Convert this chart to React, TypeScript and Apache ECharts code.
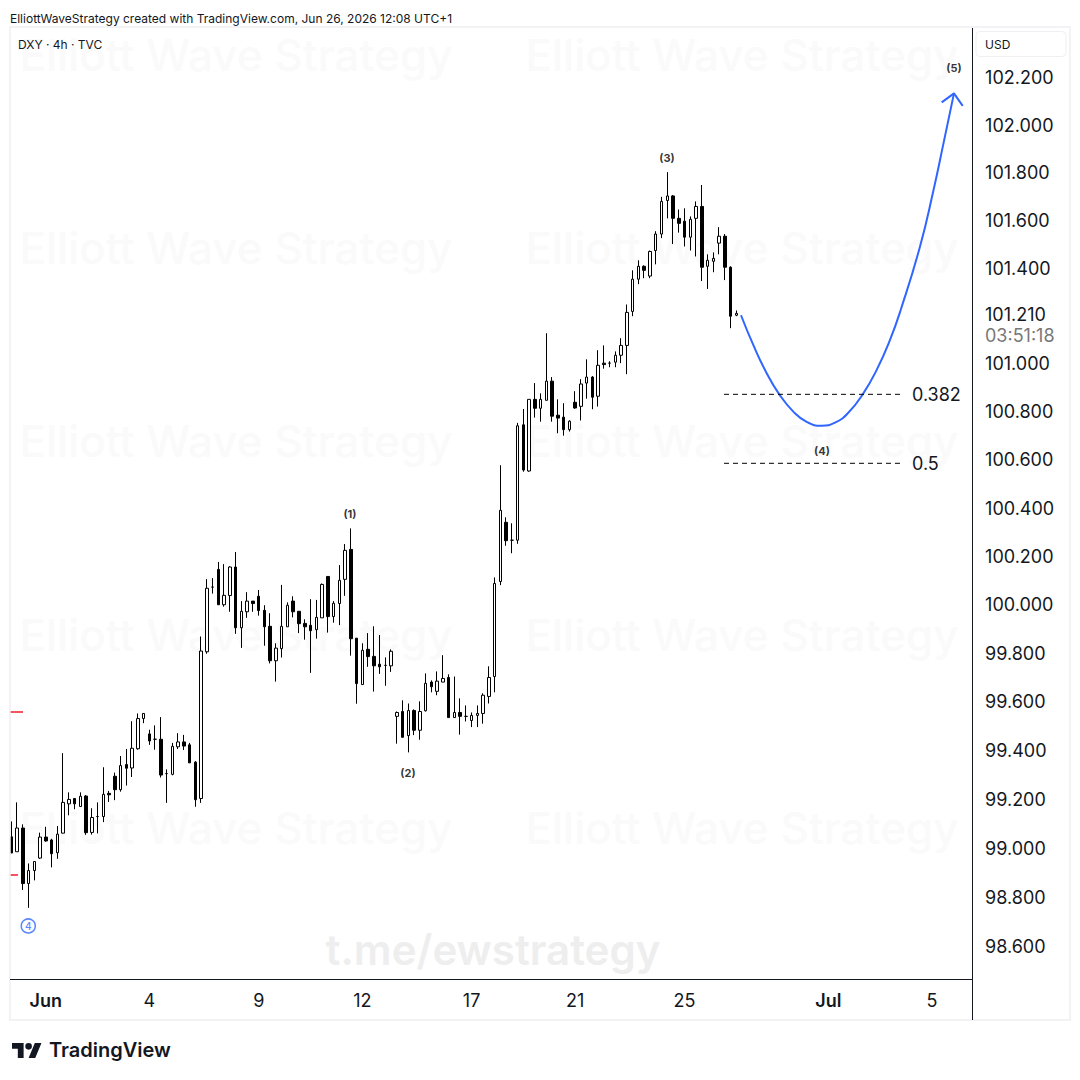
import * as echarts from 'echarts';
import { memo, useEffect, useRef } from 'react';

const opens = [
  99.046, 98.985, 99.082, 98.855, 98.908, 98.959, 99.045, 99.033, 98.981, 99.061,
  99.181, 99.203, 99.17, 99.213, 99.064, 99.129, 99.129, 99.224, 99.294, 99.239,
  99.342, 99.328, 99.407, 99.531, 99.468, 99.446, 99.446, 99.305, 99.302, 99.415,
  99.435, 99.423, 99.352, 99.203, 99.806, 100.073, 100.146, 100.0, 100.038, 100.156,
  99.905, 99.971, 100.015, 100.035, 99.977, 99.911, 99.769, 99.819, 99.909, 100.015,
  99.973, 99.923, 99.915, 99.897, 99.946, 100.117, 99.951, 100.005, 100.105, 100.229,
  99.862, 99.671, 99.816, 99.787, 99.755, 99.75, 99.748, 99.54, 99.56, 99.461,
  99.564, 99.483, 99.563, 99.681, 99.643, 99.681, 99.7, 99.535, 99.556, 99.54,
  99.523, 99.544, 99.552, 99.622, 99.704, 100.096, 100.341, 100.267, 100.267, 100.746,
  100.554, 100.852, 100.815, 100.848, 100.928, 100.786, 100.778, 100.726, 100.84, 100.823,
  100.92, 100.945, 100.865, 101.003, 101.003, 101.007, 101.036, 101.077, 101.219, 101.354,
  101.408, 101.367, 101.474, 101.543, 101.684, 101.703, 101.609, 101.597, 101.53, 101.609,
  101.659, 101.408, 101.429, 101.505, 101.534, 101.404, 101.203,
];
const closes = [
  98.98, 99.082, 98.855, 98.908, 98.945, 99.045, 99.029, 98.977, 99.057, 99.187,
  99.199, 99.181, 99.212, 99.063, 99.125, 99.129, 99.22, 99.218, 99.239, 99.338,
  99.327, 99.409, 99.531, 99.552, 99.439, 99.446, 99.299, 99.305, 99.417, 99.435,
  99.418, 99.349, 99.198, 99.809, 100.068, 100.073, 100.0, 100.039, 100.156, 99.905,
  99.973, 100.015, 100.005, 99.976, 99.909, 99.769, 99.821, 99.911, 99.998, 99.971,
  99.922, 99.909, 99.893, 99.948, 100.084, 99.951, 100.006, 100.101, 100.225, 99.86,
  99.675, 99.812, 99.786, 99.748, 99.744, 99.75, 99.808, 99.556, 99.454, 99.564,
  99.483, 99.56, 99.676, 99.662, 99.685, 99.696, 99.535, 99.556, 99.54, 99.54,
  99.544, 99.552, 99.627, 99.7, 100.088, 100.391, 100.265, 100.267, 100.742, 100.558,
  100.852, 100.815, 100.852, 100.928, 100.782, 100.774, 100.726, 100.761, 100.816, 100.916,
  100.945, 100.861, 100.994, 100.997, 101.003, 101.036, 101.077, 101.215, 101.354, 101.408,
  101.391, 101.47, 101.543, 101.68, 101.703, 101.609, 101.588, 101.53, 101.605, 101.659,
  101.404, 101.433, 101.441, 101.534, 101.404, 101.199, 101.211,
];
const lows = [
  98.98, 98.985, 98.829, 98.756, 98.868, 98.956, 99.026, 98.921, 98.956, 99.06,
  99.134, 99.159, 99.17, 99.054, 99.055, 99.06, 99.106, 99.189, 99.196, 99.231,
  99.256, 99.291, 99.403, 99.512, 99.423, 99.403, 99.289, 99.185, 99.298, 99.406,
  99.402, 99.349, 99.169, 99.185, 99.798, 100.046, 100.0, 99.992, 99.971, 99.88,
  99.822, 99.946, 99.971, 99.955, 99.831, 99.758, 99.683, 99.782, 99.909, 99.948,
  99.883, 99.856, 99.719, 99.86, 99.946, 99.885, 99.926, 99.916, 100.037, 99.79,
  99.592, 99.671, 99.744, 99.642, 99.715, 99.666, 99.723, 99.428, 99.454, 99.392,
  99.463, 99.444, 99.56, 99.639, 99.627, 99.681, 99.535, 99.535, 99.465, 99.519,
  99.496, 99.496, 99.51, 99.593, 99.639, 100.081, 100.244, 100.213, 100.252, 100.551,
  100.551, 100.776, 100.759, 100.848, 100.759, 100.711, 100.701, 100.718, 100.813, 100.764,
  100.855, 100.811, 100.822, 100.98, 100.986, 100.986, 101.003, 100.957, 101.199, 101.333,
  101.358, 101.358, 101.416, 101.526, 101.609, 101.501, 101.549, 101.491, 101.474, 101.449,
  101.346, 101.313, 101.383, 101.458, 101.35, 101.149, 101.199,
];
const highs = [
  99.109, 99.187, 99.097, 98.937, 98.945, 99.063, 99.087, 99.038, 99.09, 99.389,
  99.228, 99.203, 99.228, 99.217, 99.163, 99.187, 99.331, 99.234, 99.309, 99.377,
  99.406, 99.52, 99.552, 99.552, 99.485, 99.503, 99.537, 99.322, 99.431, 99.471,
  99.464, 99.431, 99.356, 99.869, 100.106, 100.11, 100.177, 100.168, 100.159, 100.218,
  100.015, 100.052, 100.015, 100.061, 99.998, 99.965, 99.841, 100.082, 100.01, 100.035,
  99.973, 99.94, 100.023, 100.02, 100.088, 100.117, 100.015, 100.164, 100.251, 100.316,
  99.862, 99.841, 99.883, 99.911, 99.875, 99.783, 99.816, 99.56, 99.606, 99.593,
  99.569, 99.602, 99.717, 99.688, 99.725, 99.792, 99.713, 99.704, 99.614, 99.585,
  99.556, 99.585, 99.635, 99.746, 100.113, 100.578, 100.362, 100.337, 100.754, 100.812,
  100.852, 100.92, 100.877, 101.128, 100.945, 100.852, 100.836, 100.765, 100.886, 100.936,
  101.019, 100.949, 101.057, 101.077, 101.011, 101.052, 101.107, 101.248, 101.391, 101.433,
  101.412, 101.474, 101.555, 101.699, 101.803, 101.707, 101.646, 101.651, 101.617, 101.68,
  101.749, 101.458, 101.466, 101.572, 101.543, 101.408, 101.223,
];

const tickLabels = ['Jun', '4', '9', '12', '17', '21', '25', 'Jul', '5'];
const tickIndexes = [6, 24, 43, 61, 80, 98, 117, 142, 160];
const boldTicks = ['Jun', 'Jul'];
const categories = Array.from({ length: 168 }, (_, i) => {
  const at = tickIndexes.indexOf(i);
  return at >= 0 ? tickLabels[at] : `#${i}`;
});

const priceTicks = [
  102.2, 102.0, 101.8, 101.6, 101.4, 101.0, 100.8, 100.6, 100.4, 100.2, 100.0, 99.8, 99.6, 99.4,
  99.2, 99.0, 98.8, 98.6,
];

// forecast path, x in candle index units
const forecastX = [
  126.82, 128.95, 131.28, 133.47, 135.91, 138.23, 140.84, 143.15, 145.46, 147.97, 150.4, 152.71,
  154.62, 157.93, 160.24, 161.97, 163.83,
];
const forecastY = [
  101.203, 101.079, 100.961, 100.873, 100.801, 100.758, 100.742, 100.755, 100.796, 100.873, 100.975,
  101.1, 101.229, 101.491, 101.724, 101.92, 102.135,
];
const arrowX = [161.7, 163.83, 165.35];
const arrowY = [102.097, 102.135, 102.082];

const fibNames = ['0.382', '0.5'];
const fibPrices = [100.873, 100.586];
const fibFrom = 123.86;
const fibTo = 154.97;

const waveNames = ['(1)', '(2)', '(3)', '(4)', '(5)'];
const waveX = [58.86, 68.94, 113.95, 140.89, 163.83];
const waveY = [100.38, 99.312, 101.867, 100.644, 102.249];

const redMarks = [
  { x: [-0.25, 2.03], y: 99.558 },
  { x: [-0.25, 1.16], y: 98.89 },
];

const FONT = 'Inter';
const LAST_PRICE = '101.210';
const COUNTDOWN = '03:51:18';
const HEADER = 'ElliottWaveStrategy created with TradingView.com, Jun 26, 2026 12:08 UTC+1';
const WATERMARK = 'Elliott Wave Strategy';

echarts.graphic.registerShape(
  'tvLogo',
  echarts.graphic.extendPath(
    'M14 22H7V11H0V4h14v18zM28 22h-8l7.5-18h8L28 22zM24 8a4 4 0 1 1-8 0a4 4 0 1 1 8 0z',
    {},
  ),
);

const text = (x: number, y: number, value: string, size: number, extra: object = {}) => ({
  type: 'text',
  x,
  y,
  style: {
    text: value,
    fontSize: size,
    fontFamily: FONT,
    fill: '#131722',
    verticalAlign: 'middle',
    ...extra,
  },
});

const watermarks = [55, 248, 441, 635, 828].flatMap((y) =>
  [236, 742].map((x) => ({
    ...text(x, y, WATERMARK, 44, { fill: '#fafafa', fontWeight: 500, align: 'center' }),
    z: -1,
  })),
);

export default memo(function App() {
  const container = useRef<HTMLDivElement | null>(null);

  useEffect(() => {
    document.body.style.margin = '0';
    if (!container.current) return;
    const chart = echarts.init(container.current, undefined, { renderer: 'svg' });

    chart.setOption({
      animation: false,
      backgroundColor: '#fff',
      textStyle: { fontFamily: FONT },
      grid: { left: 8.42, top: 28, width: 966.67, height: 951 },
      xAxis: [
        {
          type: 'category',
          data: categories,
          axisLine: { show: false },
          axisTick: { show: false },
          splitLine: { show: false },
          axisLabel: {
            interval: (_: number, value: string) => tickLabels.includes(value),
            margin: 12,
            hideOverlap: false,
            color: '#131722',
            fontSize: 18,
            formatter: (value: string) =>
              boldTicks.includes(value) ? `{b|${value}}` : value,
            rich: { b: { fontWeight: 600, fontSize: 18, color: '#131722', fontFamily: FONT } },
          },
        },
        { type: 'value', min: -0.5, max: 167.5, show: false },
      ],
      yAxis: {
        type: 'log',
        position: 'right',
        min: 98.466,
        max: 102.411,
        axisLine: { show: false },
        axisTick: { show: false },
        splitLine: { show: false },
        axisLabel: {
          customValues: priceTicks,
          margin: 10,
          color: '#131722',
          fontSize: 18,
          formatter: (value: number) => value.toFixed(3),
        },
      },
      series: [
        {
          type: 'candlestick',
          barWidth: 3,
          data: opens.map((open, i) => [open, closes[i], lows[i], highs[i]]),
          itemStyle: {
            color: '#fff',
            color0: '#000',
            borderColor: '#000',
            borderColor0: '#000',
            borderWidth: 1,
          },
        },
        {
          type: 'line',
          xAxisIndex: 1,
          smooth: true,
          symbol: 'none',
          lineStyle: { color: '#2f66ff', width: 2 },
          data: forecastX.map((x, i) => [x, forecastY[i]]),
        },
        {
          type: 'line',
          xAxisIndex: 1,
          symbol: 'none',
          lineStyle: { color: '#2f66ff', width: 2 },
          data: arrowX.map((x, i) => [x, arrowY[i]]),
        },
        ...fibPrices.map((price, i) => ({
          type: 'line',
          xAxisIndex: 1,
          symbol: 'none',
          lineStyle: { color: '#000', width: 1, type: [5, 4] },
          data: [
            [fibFrom, price],
            [fibTo, price],
          ],
          endLabel: {
            show: true,
            distance: 9,
            color: '#131722',
            fontSize: 18,
            formatter: () => fibNames[i],
          },
        })),
        ...redMarks.map((mark) => ({
          type: 'line',
          xAxisIndex: 1,
          symbol: 'none',
          lineStyle: { color: '#f7525f', width: 2 },
          data: mark.x.map((x) => [x, mark.y]),
        })),
        {
          type: 'scatter',
          xAxisIndex: 1,
          symbolSize: 1,
          itemStyle: { color: 'rgba(0,0,0,0)' },
          label: {
            show: true,
            position: 'inside',
            offset: [0, 1.5],
            color: '#000',
            fontSize: 11,
            fontWeight: 700,
            formatter: (p: { value: [number, number, string] }) => p.value[2],
          },
          data: waveNames.map((name, i) => [waveX[i], waveY[i], name]),
        },
        {
          type: 'scatter',
          xAxisIndex: 1,
          symbolSize: 14,
          itemStyle: { color: '#fff', borderColor: '#2f66ff', borderWidth: 1.5 },
          label: {
            show: true,
            position: 'inside',
            color: '#2f66ff',
            fontSize: 10,
            fontWeight: 500,
            formatter: '4',
          },
          data: [[2.95, 98.682]],
        },
      ],
      graphic: [
        ...watermarks,
        {
          ...text(493, 949, 't.me/ewstrategy', 42, {
            fill: '#eeeeee',
            fontWeight: 600,
            align: 'center',
          }),
          z: -1,
        },
        text(10, 18, HEADER, 12),
        text(18, 44, 'DXY · 4h · TVC', 12),
        {
          type: 'rect',
          shape: { x: 10, y: 27, width: 1060, height: 993 },
          style: { fill: 'none', stroke: '#f0f0f3', lineWidth: 1.5 },
          z: 10,
        },
        {
          type: 'line',
          shape: { x1: 10, y1: 979.5, x2: 972, y2: 979.5 },
          style: { stroke: '#131722', lineWidth: 1 },
          z: 10,
        },
        {
          type: 'line',
          shape: { x1: 972.5, y1: 28, x2: 972.5, y2: 1020 },
          style: { stroke: '#131722', lineWidth: 1 },
          z: 10,
        },
        {
          type: 'rect',
          shape: { x: 976, y: 31.5, width: 90, height: 25, r: 4 },
          style: { fill: '#fff', stroke: '#f0f0f3', lineWidth: 1 },
          z: 10,
        },
        { ...text(985, 44, 'USD', 12), z: 11 },
        text(985, 314, LAST_PRICE, 18),
        text(985, 335, COUNTDOWN, 18, { fill: '#787878' }),
        {
          type: 'tvLogo',
          x: 12,
          y: 1039.7,
          scaleX: 0.83,
          scaleY: 0.83,
          style: { fill: '#131722' },
        },
        text(49, 1050, 'TradingView', 20, { fontWeight: 600 }),
      ],
    } as echarts.EChartsOption);

    return () => {
      chart.dispose();
    };
  }, []);

  return <div ref={container} style={{ position: 'fixed', left: 0, top: 0, width: 1080, height: 1080 }} />;
});
